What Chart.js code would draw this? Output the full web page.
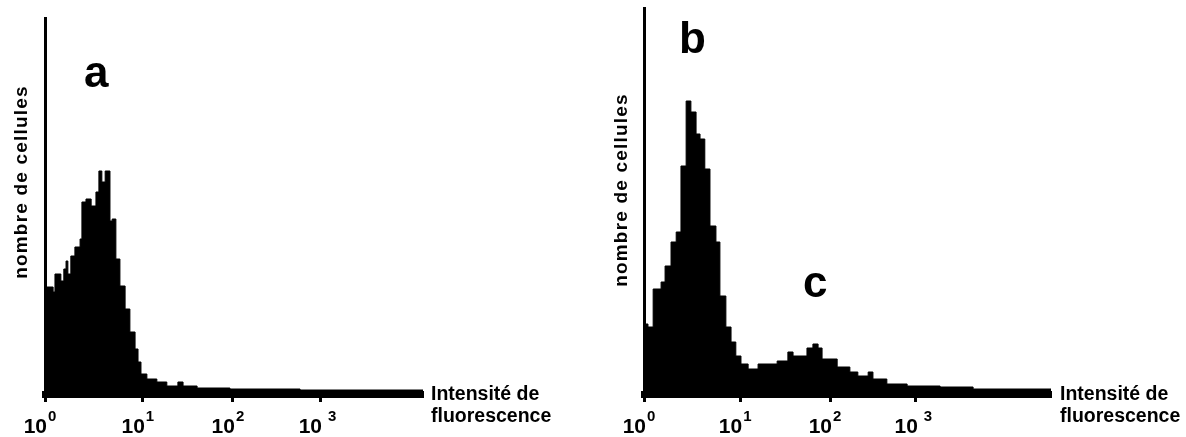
<!DOCTYPE html>
<html><head>
<meta charset="UTF-8">
<title>Histogrammes de fluorescence</title>
<script src="https://cdn.jsdelivr.net/npm/chart.js"></script>
<style>
  body { margin: 0; background: #fff; }
  .panel { position: absolute; top: 0; width: 593px; height: 437px; }
</style>
</head><body>
<div class="panel" style="left:0"><canvas id="chartA" width="593" height="437"></canvas></div>
<div class="panel" style="left:593px"><canvas id="chartB" width="593" height="437"></canvas></div>
<script>
// canal (0-1024 sur la longueur de l'axe) / nombre de cellules
const channelsA = [0, 22, 27, 43, 51, 57, 62, 70, 81, 95, 100, 111, 125, 138, 146, 154, 163, 176, 182, 192,
  203, 217, 230, 244, 252, 260, 276, 303, 330, 360, 374, 412, 501, 691, 1024];
const countsA = [107, 102, 120, 113, 125, 133, 120, 138, 147, 155, 192, 195, 188, 202, 223, 212, 223, 173, 175, 135,
  108, 85, 62, 45, 32, 20, 15, 12, 8, 12, 8, 6, 5, 4, 3];

const channelsB = [0, 10, 23, 43, 53, 68, 81, 93, 106, 118, 131, 141, 153, 166, 181, 191, 206, 219, 231, 244,
  262, 287, 335, 362, 375, 410, 425, 438, 448, 486, 518, 538, 564, 576, 611, 662, 745, 828, 1024];
const countsB = [70, 67, 105, 112, 128, 152, 162, 228, 293, 282, 260, 255, 225, 168, 152, 98, 67, 52, 38, 30,
  25, 30, 33, 42, 38, 46, 50, 46, 35, 27, 22, 18, 22, 15, 10, 8, 7, 5, 4];

// position des graduations 10^0 ... 10^3 (en canaux)
const tickChannelsA = [0, 265, 509, 745];
const tickChannelsB = [0, 242, 468, 684];
const tickExponents = ['0', '1', '2', '3'];

const yTitle = 'nombre de cellules';
const xTitle = ['Intensité de', 'fluorescence'];

const FONT = '"Liberation Sans", Arial, sans-serif';

const textPlugin = {
  id: 'panelText',
  afterDraw(chart, args, opts) {
    const { ctx } = chart;
    const xs = chart.scales.x;
    ctx.save();
    ctx.fillStyle = '#000';
    ctx.textBaseline = 'alphabetic';

    // graduations 10^n
    xs.ticks.forEach((t, i) => {
      const px = xs.getPixelForValue(t.value);
      ctx.font = `bold 21px ${FONT}`;
      ctx.textAlign = 'right';
      ctx.fillText('10', px + 2, 433);
      ctx.font = `bold 15px ${FONT}`;
      ctx.textAlign = 'left';
      ctx.fillText(tickExponents[i], px + (i === 3 ? 8 : 3), 421);
    });

    // titre axe x
    ctx.font = `bold 19.5px ${FONT}`;
    ctx.textAlign = 'left';
    ctx.fillText(xTitle[0], opts.xTitleX, 400);
    ctx.fillText(xTitle[1], opts.xTitleX, 422);

    // titre axe y
    ctx.save();
    ctx.translate(opts.yTitleX, opts.yTitleY);
    ctx.rotate(-Math.PI / 2);
    ctx.font = `bold 19px ${FONT}`;
    ctx.letterSpacing = '1.2px';
    ctx.textAlign = 'center';
    ctx.fillText(yTitle, 0, 0);
    ctx.restore();

    // lettres a, b, c
    ctx.font = `bold 44px ${FONT}`;
    ctx.textAlign = 'left';
    opts.letters.forEach((l) => ctx.fillText(l.text, l.x, l.y));
    ctx.restore();
  },
};

function makeChart(id, channels, counts, ticks, yMax, pad, textOpts) {
  return new Chart(document.getElementById(id), {
    type: 'line',
    data: {
      datasets: [{
        data: channels.map((c, i) => ({ x: c, y: counts[i] })),
        stepped: true,
        fill: 'origin',
        backgroundColor: '#000',
        borderColor: '#000',
        borderWidth: 1,
        pointRadius: 0,
      }],
    },
    options: {
      responsive: false,
      animation: false,
      events: [],
      layout: { padding: pad },
      plugins: { legend: { display: false }, tooltip: { enabled: false }, panelText: textOpts },
      scales: {
        x: {
          type: 'linear',
          min: 0,
          max: 1024,
          afterBuildTicks: (s) => { s.ticks = ticks.map((v) => ({ value: v })); },
          afterFit: (s) => { s.height = 0; },
          ticks: { display: false },
          grid: { display: true, drawOnChartArea: false, drawTicks: true, tickLength: 8, tickWidth: 3, color: '#000' },
          border: { display: true, width: 7, color: '#000' },
        },
        y: {
          min: 0,
          max: yMax,
          afterFit: (s) => { s.width = 0; },
          ticks: { display: false },
          grid: { display: false },
          border: { display: true, width: 3, color: '#000' },
        },
      },
    },
    plugins: [textPlugin],
  });
}

makeChart('chartA', channelsA, countsA, tickChannelsA, 376,
  { left: 45, right: 170, top: 18, bottom: 43 },
  { xTitleX: 431, yTitleX: 27, yTitleY: 182, letters: [{ text: 'a', x: 84, y: 87 }] });

makeChart('chartB', channelsB, countsB, tickChannelsB, 386,
  { left: 51, right: 135, top: 8, bottom: 43 },
  { xTitleX: 467, yTitleX: 34, yTitleY: 190, letters: [{ text: 'b', x: 86, y: 53 }, { text: 'c', x: 210, y: 297 }] });
</script>
</body></html>
